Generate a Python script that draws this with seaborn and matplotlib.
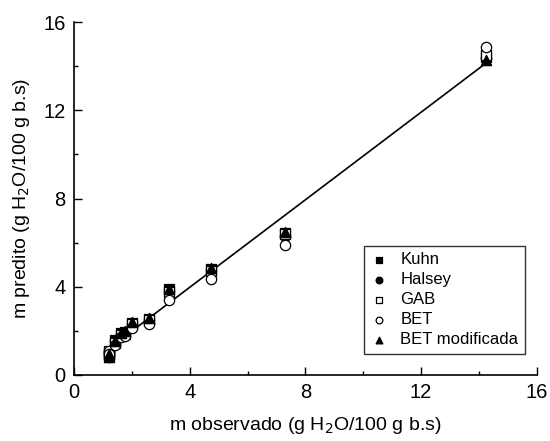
import seaborn as sns
sns.set_style("ticks")
import matplotlib.pyplot as plt
import numpy as np
import pandas as pd

plt.rcParams['font.family'] = ['Liberation Sans', 'DejaVu Sans']
plt.rcParams['text.color'] = 'black'
plt.rcParams['axes.labelcolor'] = 'black'
plt.rcParams['xtick.color'] = 'black'
plt.rcParams['ytick.color'] = 'black'
plt.rcParams['axes.edgecolor'] = 'black'

# umidade de equilibrio observada (g H2O/100 g b.s)
m_obs = [1.2, 1.22, 1.42, 1.62, 1.78, 2.02, 2.6, 3.28, 4.75, 7.28, 14.25]

# valores preditos por modelo
kuhn = [1.05, 0.85, 1.6, 1.9, 1.95, 2.35, 2.55, 3.9, 4.8, 6.45, 14.4]
halsey = [1.0, 0.8, 1.55, 1.85, 1.95, 2.3, 2.5, 3.8, 4.75, 6.3, 14.35]
gab = [1.1, 0.9, 1.45, 1.8, 1.85, 2.3, 2.5, 3.75, 4.7, 6.4, 14.5]
bet = [1.1, 0.95, 1.35, 1.7, 1.75, 2.15, 2.3, 3.4, 4.35, 5.9, 14.85]
bet_mod = [0.95, 0.8, 1.55, 1.9, 2.0, 2.4, 2.6, 3.9, 4.85, 6.5, 14.3]

modelos = ["Kuhn", "Halsey", "GAB", "BET", "BET modificada"]
valores = [kuhn, halsey, gab, bet, bet_mod]
marcadores = ["s", "o", "s", "o", "^"]
preenchido = [True, True, False, False, True]

df = pd.concat([pd.DataFrame({"obs": m_obs, "pred": v, "modelo": n})
                for n, v in zip(modelos, valores)], ignore_index=True)

fig = plt.figure(figsize=(5.5, 4.41), dpi=100)
ax = fig.add_axes([0.1345, 0.1497, 0.8415, 0.8003])

# reta ajustada
a, b = np.polyfit(df["obs"], df["pred"], 1)
xr = np.array([min(m_obs) - 0.1, max(m_obs)])
ax.plot(xr, a * xr + b, color="black", lw=1.2, zorder=1)

for n, mk, f in zip(modelos, marcadores, preenchido):
    sub = df[df["modelo"] == n]
    sns.scatterplot(data=sub, x="obs", y="pred", ax=ax, marker=mk, s=55,
                    facecolor="black" if f else "white", edgecolor="black",
                    linewidth=0.9, label=n, zorder=3)

ax.set_xlim(0, 16)
ax.set_ylim(0, 16)
ax.set_xticks([0, 4, 8, 12, 16])
ax.set_yticks([0, 4, 8, 12, 16])
ax.set_xticks([2, 6, 10, 14], minor=True)
ax.set_yticks([2, 6, 10, 14], minor=True)
ax.tick_params(which="major", direction="in", length=6, width=1, labelsize=14.5, pad=6)
ax.tick_params(which="minor", direction="in", length=3, width=1)
for s in ["left", "bottom"]:
    ax.spines[s].set_linewidth(1.2)
sns.despine(ax=ax)

ax.set_xlabel("m observado (g H$_2$O/100 g b.s)", fontsize=14, labelpad=9)
ax.set_ylabel("m predito (g H$_2$O/100 g b.s)", fontsize=14, labelpad=8)

leg = ax.legend(loc="lower right", bbox_to_anchor=(0.985, 0.045), fontsize=12,
                frameon=True, fancybox=False, edgecolor="black",
                handletextpad=0.7, borderpad=0.4, labelspacing=0.3,
                markerscale=0.65, handlelength=1.1, borderaxespad=0.3)
leg.get_frame().set_linewidth(1.0)

plt.savefig("out.png", dpi=100)
